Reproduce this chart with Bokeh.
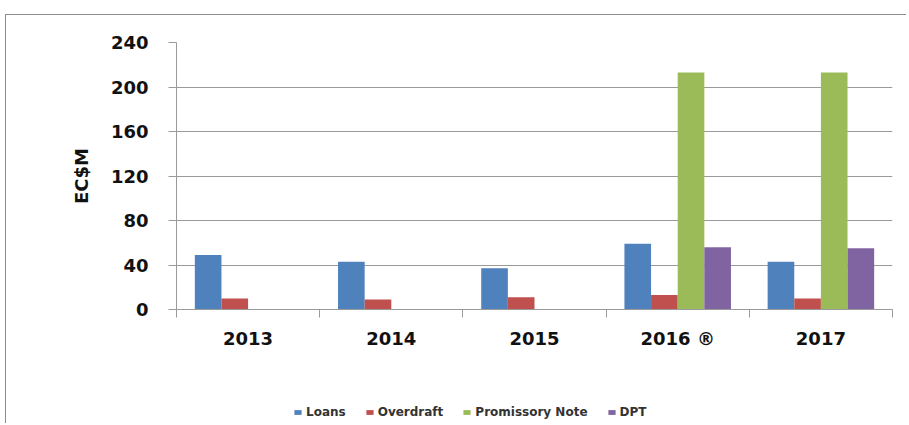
from bokeh.plotting import figure
from bokeh.layouts import column
from bokeh.models import Range1d, FixedTicker, Legend, LegendItem, ColumnDataSource
from bokeh.transform import dodge
from bokeh.embed import file_html
from bokeh.resources import INLINE

years = ["2013", "2014", "2015", "2016 \u00ae", "2017"]
loans = [49, 43, 37, 59, 43]
overdraft = [10, 9, 11, 13, 10]
promissory_note = [0, 0, 0, 213, 213]
dpt = [0, 0, 0, 56, 55]
series_names = ["Loans", "Overdraft", "Promissory Note", "DPT"]
colors = ["#4F81BD", "#C0504D", "#9BBB59", "#8064A2"]
y_ticks = [0, 40, 80, 120, 160, 200, 240]

centers = [i + 0.5 for i in range(len(years))]
bounds = [float(i) for i in range(len(years) + 1)]

src = ColumnDataSource(dict(x=centers, loans=loans, overdraft=overdraft,
                            promissory=promissory_note, dpt=dpt))

p = figure(width=900, height=386, x_range=Range1d(0, len(years)), y_range=Range1d(0, 240),
           output_backend="svg", toolbar_location=None,
           min_border_left=170, min_border_right=14, min_border_top=27, min_border_bottom=92)
p.outline_line_color = None
p.background_fill_color = "white"
p.border_fill_color = "white"

bw = 0.186
cols = ["loans", "overdraft", "promissory", "dpt"]
offsets = [-1.5 * bw, -0.5 * bw, 0.5 * bw, 1.5 * bw]
for c, off, col in zip(cols, offsets, colors):
    p.vbar(x=dodge("x", off), top=c, width=bw, source=src, fill_color=col, line_color=None)

gray = "#9a9a9a"
# x axis
xa = p.xaxis[0]
xa.ticker = FixedTicker(ticks=centers, minor_ticks=bounds)
xa.major_label_overrides = {c: y for c, y in zip(centers, years)}
xa.major_tick_line_color = None
xa.major_tick_out = 8
xa.major_tick_in = 0
xa.minor_tick_in = 0
xa.minor_tick_out = 8
xa.minor_tick_line_color = gray
xa.axis_line_color = gray
xa.major_label_standoff = 10
xa.major_label_text_font = "DejaVu Sans"
xa.major_label_text_font_style = "bold"
xa.major_label_text_font_size = "18px"
xa.major_label_text_color = "#111111"

# y axis
ya = p.yaxis[0]
ya.ticker = FixedTicker(ticks=y_ticks)
ya.major_tick_out = 8
ya.major_tick_in = 0
ya.major_tick_line_color = gray
ya.minor_tick_line_color = None
ya.axis_line_color = gray
ya.major_label_standoff = 20
ya.major_label_text_font = "DejaVu Sans"
ya.major_label_text_font_style = "bold"
ya.major_label_text_font_size = "18px"
ya.major_label_text_color = "#111111"
ya.axis_label = "EC$M"
ya.axis_label_text_font = "DejaVu Sans"
ya.axis_label_text_font_style = "bold"
ya.axis_label_text_font_size = "18px"
ya.axis_label_text_color = "#111111"
ya.axis_label_standoff = 16

p.xgrid.grid_line_color = None
p.ygrid.grid_line_color = gray
p.ygrid.ticker = FixedTicker(ticks=y_ticks)

# legend strip
pl = figure(width=900, height=22, output_backend="svg", toolbar_location=None,
            x_axis_location=None, y_axis_location=None,
            min_border_left=0, min_border_right=0, min_border_top=0, min_border_bottom=0)
pl.outline_line_color = None
pl.grid.visible = False
proxies = [pl.vbar(x="x", top=c, width=bw, source=src, fill_color=col, line_color=None, visible=False)
           for c, col in zip(cols, colors)]

legend = Legend(items=[LegendItem(label=n, renderers=[r]) for n, r in zip(series_names, proxies)],
                orientation="horizontal", location=(117, 4))
legend.glyph_width = 9
legend.glyph_height = 6
legend.label_height = 12
legend.label_text_font = "DejaVu Sans"
legend.label_text_font_style = "bold"
legend.label_text_font_size = "12px"
legend.label_text_color = "#333333"
legend.label_standoff = 4
legend.spacing = 19
legend.padding = 0
legend.margin = 0
legend.border_line_color = None
legend.background_fill_alpha = 0
legend.inactive_fill_alpha = 0
pl.add_layout(legend)

layout = column(p, pl, spacing=0)
layout.styles = {"position": "relative", "top": "14px", "left": "5px",
                 "border-top": "1px solid #8c8c8c", "border-left": "1px solid #8c8c8c"}

open("out.html", "w").write(file_html(layout, INLINE))
